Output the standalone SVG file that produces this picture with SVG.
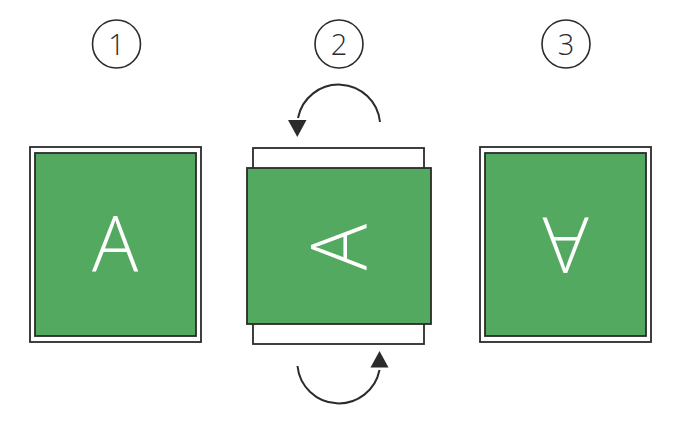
<svg xmlns="http://www.w3.org/2000/svg" width="685" height="429" viewBox="0 0 685 429">
<style>
.frame{fill:#fff;stroke:#2b2b2b;stroke-width:1.8}
.card{fill:#52a95f;stroke:#2b2b2b;stroke-width:1.8}
.letter{font-family:"Open Sans","Noto Sans",sans-serif;font-weight:300;font-size:77px;fill:#fff;text-anchor:middle}
.num{font-family:"Open Sans","Noto Sans",sans-serif;font-weight:300;font-size:29px;fill:#2b2b2b;text-anchor:middle}
.ring{fill:none;stroke:#2b2b2b;stroke-width:1.6}
.arc{fill:none;stroke:#2b2b2b;stroke-width:2}
</style>
<defs>
<marker id="ah" viewBox="0 0 10 10" refX="2" refY="5" markerWidth="9" markerHeight="9" markerUnits="userSpaceOnUse" orient="auto">
<path d="M0,0 L10,5 L0,10 z" fill="#2b2b2b"/>
</marker>
</defs>
<g id="step1">
<circle class="ring" cx="116.5" cy="44" r="24"/>
<text class="num" x="116.5" y="54.5">1</text>
<rect class="frame" x="30" y="147" width="171" height="195"/>
<rect class="card" x="35" y="153" width="161" height="183"/>
<text class="letter" x="115" y="272">A</text>
</g>
<g id="step2">
<circle class="ring" cx="339" cy="44" r="24"/>
<text class="num" x="339" y="54.5">2</text>
<rect class="frame" x="253" y="148" width="171" height="196"/>
<rect class="card" x="247" y="168" width="184" height="156"/>
<text class="letter" x="339" y="274.5" transform="rotate(-90 339 247)">A</text>
</g>
<g id="step3">
<circle class="ring" cx="566" cy="44" r="24"/>
<text class="num" x="566" y="54.5">3</text>
<rect class="frame" x="480" y="147" width="171" height="195"/>
<rect class="card" x="485" y="153" width="161" height="183"/>
<text class="letter" x="565.5" y="271.5" transform="rotate(180 565.5 244)">A</text>
</g>
<g id="connectors">
<path class="arc" d="M380,122 A41.5,41.5 0 0 0 298,118"/>
<path d="M288,120 L306.5,120 L297.3,137 z" fill="#2b2b2b"/>
<path class="arc" d="M297.5,366 A41.5,41.5 0 0 0 379.5,370"/>
<path d="M370.5,367.5 L388.5,367.5 L379.5,351 z" fill="#2b2b2b"/>
</g>
</svg>
